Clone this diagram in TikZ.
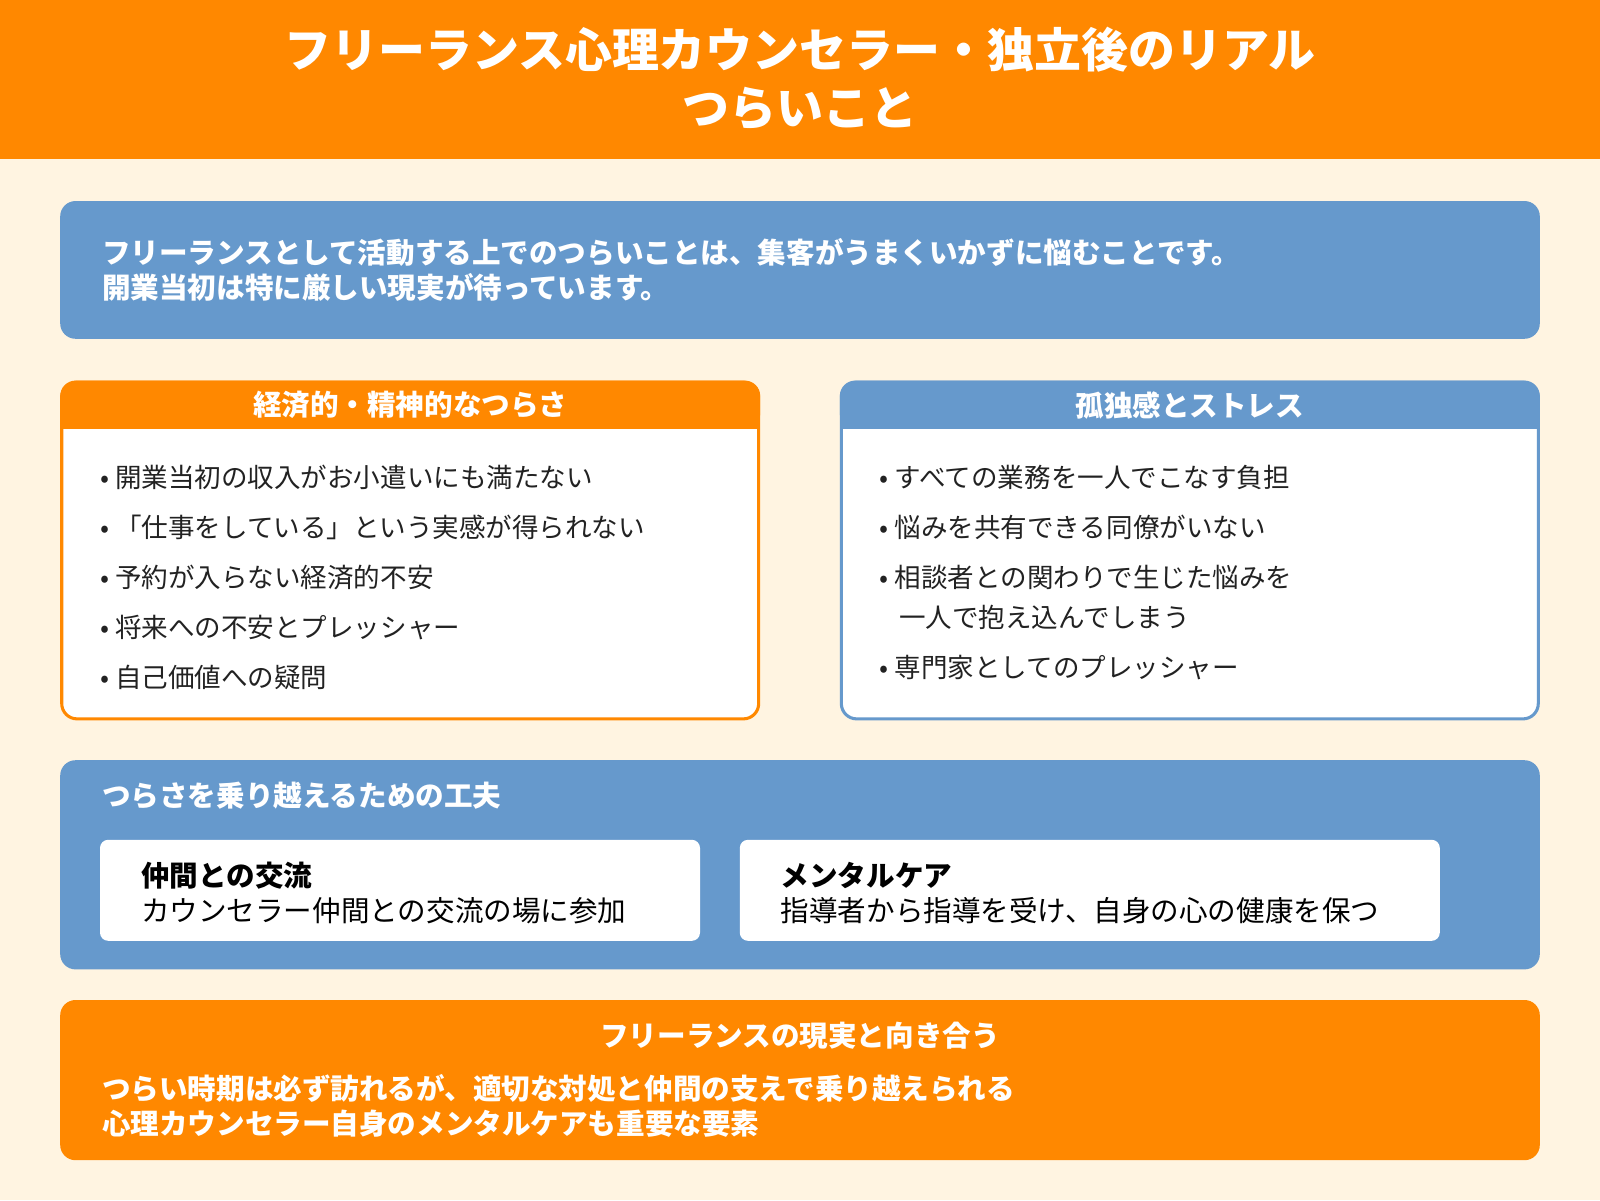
\documentclass[tikz,border=0pt]{standalone}
\usepackage{fontspec}
\setmainfont{Noto Sans CJK JP}
\newfontfamily\jpb{Noto Sans CJK JP Bold}
\definecolor{org}{HTML}{FF8800}
\definecolor{blu}{HTML}{6699CC}
\definecolor{crm}{HTML}{FFF4E1}
\definecolor{txt}{HTML}{222222}
\tikzset{
 bt/.style={anchor=west,text=white,font=\fontsize{28}{32}\selectfont\bfseries,inner sep=0},
 bl/.style={anchor=west,text=txt,font=\fontsize{26}{30}\selectfont,inner sep=0},
 card/.style={draw=#1,line width=3pt,fill=white,rounded corners=15pt},
}
\begin{document}
\begin{tikzpicture}[x=1pt,y=-1pt]
\useasboundingbox (0,0) rectangle (1568,1176);
\fill[crm] (0,0) rectangle (1568,1176);
\fill[org] (0,0) rectangle (1568,156);
\node[text=white,font=\fontsize{46}{56}\selectfont\bfseries,align=center] (title) at (784,77) {フリーランス心理カウンセラー・独立後のリアル\\つらいこと};
% intro
\fill[blu,rounded corners=15pt] (59,197) rectangle (1509,332);
\node[bt] (i1) at (100,247) {フリーランスとして活動する上でのつらいことは、集客がうまくいかずに悩むことです。};
\node[bt] (i2) at (100,282) {開業当初は特に厳しい現実が待っています。};
% left card
\draw[card=org] (60.5,374.5) rectangle (743.5,704.5);
\fill[org,rounded corners=15pt] (59,373) rectangle (745,420);
\fill[org] (59,400) rectangle (745,420);
\node[bt,anchor=center] (lh) at (402,397) {経済的・精神的なつらさ};
\foreach \t [count=\i] in {開業当初の収入がお小遣いにも満たない,「仕事をしている」という実感が得られない,予約が入らない経済的不安,将来への不安とプレッシャー,自己価値への疑問}
  \node[bl] (l\i) at (98,{468+49*(\i-1)}) {• \t};
% right card
\draw[card=blu] (824.5,374.5) rectangle (1507.5,704.5);
\fill[blu,rounded corners=15pt] (823,373) rectangle (1509,420);
\fill[blu] (823,400) rectangle (1509,420);
\node[bt,anchor=center] (rh) at (1166,397) {孤独感とストレス};
\node[bl] (r1) at (862,468) {• すべての業務を一人でこなす負担};
\node[bl] (r2) at (862,517) {• 悩みを共有できる同僚がいない};
\node[bl] (r3) at (862,566) {• 相談者との関わりで生じた悩みを};
\node[bl] (r3b) at (881,605) {一人で抱え込んでしまう};
\node[bl] (r4) at (862,654) {• 専門家としてのプレッシャー};
% tips
\fill[blu,rounded corners=15pt] (59,745) rectangle (1509,950);
\node[bt] (th) at (100,780) {つらさを乗り越えるための工夫};
\fill[white,rounded corners=8pt] (98,823) rectangle (686,922);
\fill[white,rounded corners=8pt] (725,823) rectangle (1411,922);
\node[bl,font=\fontsize{28}{32}\selectfont\bfseries,text=black] (a1) at (138,858) {仲間との交流};
\node[bl,font=\fontsize{28}{32}\selectfont,text=black] (a2) at (138,892) {カウンセラー仲間との交流の場に参加};
\node[bl,font=\fontsize{28}{32}\selectfont\bfseries,text=black] (b1) at (765,858) {メンタルケア};
\node[bl,font=\fontsize{28}{32}\selectfont,text=black] (b2) at (765,892) {指導者から指導を受け、自身の心の健康を保つ};
% bottom
\fill[org,rounded corners=15pt] (59,980) rectangle (1509,1137);
\node[bt,anchor=center] (bh) at (784,1015) {フリーランスの現実と向き合う};
\node[bt] (c1) at (100,1067) {つらい時期は必ず訪れるが、適切な対処と仲間の支えで乗り越えられる};
\node[bt] (c2) at (100,1101) {心理カウンセラー自身のメンタルケアも重要な要素};
\end{tikzpicture}
\end{document}
